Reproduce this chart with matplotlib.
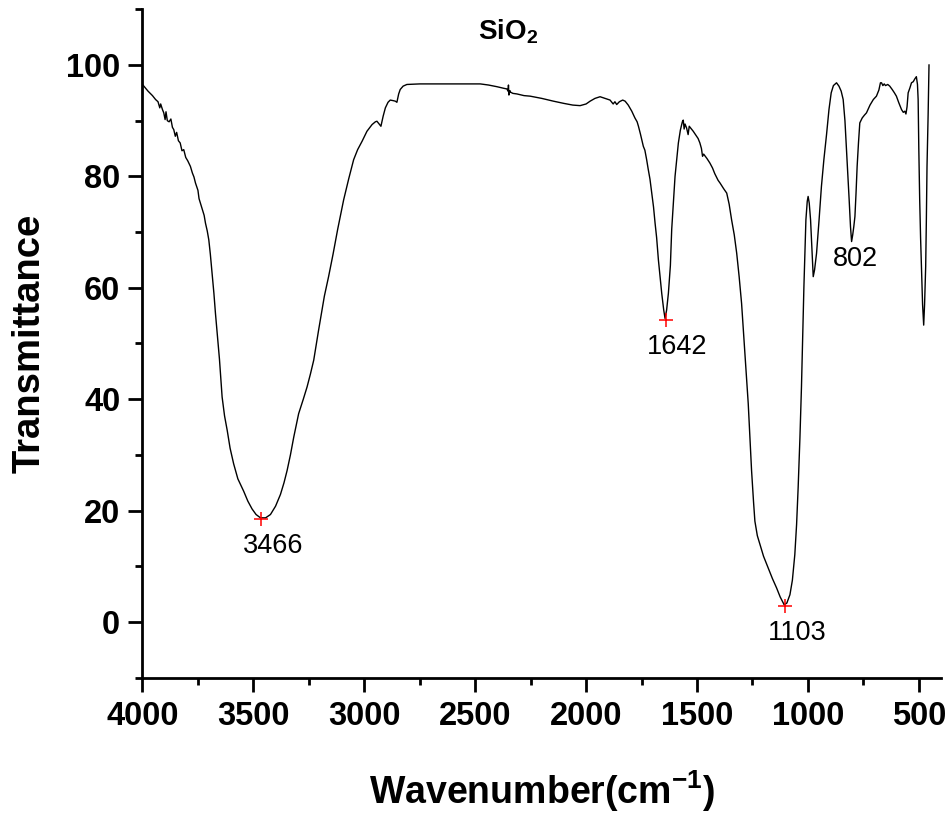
import numpy as np
import matplotlib
matplotlib.use("Agg")
import matplotlib.pyplot as plt

plt.rcParams['font.family'] = ['Liberation Sans', 'DejaVu Sans']
plt.rcParams['mathtext.fontset'] = 'custom'
plt.rcParams['mathtext.rm'] = 'Liberation Sans'
plt.rcParams['mathtext.bf'] = 'Liberation Sans:bold'

# FTIR spectrum (wavenumber cm-1, transmittance)
wavenumber = [4000, 3975, 3955, 3941, 3930, 3922, 3918, 3910, 3904, 3898, 3894, 3888, 3880,
              3872, 3865, 3859, 3852, 3846, 3838, 3830, 3822, 3814, 3805, 3796, 3784, 3775,
              3768, 3761, 3750, 3745, 3739, 3730, 3722, 3716, 3708, 3701, 3694, 3686, 3678,
              3671, 3662, 3653, 3641, 3630, 3618, 3605, 3589, 3570, 3544, 3525, 3506, 3488,
              3468, 3445, 3423, 3400, 3378, 3362, 3348, 3333, 3318, 3296, 3275, 3258, 3243,
              3228, 3206, 3180, 3161, 3141, 3120, 3100, 3093, 3070, 3048, 3030, 3010, 2988,
              2965, 2950, 2943, 2935, 2925, 2915, 2905, 2893, 2883, 2870, 2860, 2853, 2845,
              2838, 2825, 2808, 2750, 2700, 2600, 2477, 2440, 2402, 2370, 2357, 2352, 2350,
              2348, 2344, 2340, 2330, 2312, 2280, 2252, 2200, 2147, 2100, 2060, 2027, 2000,
              1982, 1960, 1937, 1915, 1892, 1878, 1870, 1862, 1850, 1835, 1824, 1810, 1794,
              1780, 1770, 1764, 1755, 1742, 1735, 1727, 1720, 1712, 1704, 1696, 1689, 1682,
              1674, 1659, 1650, 1644, 1637, 1629, 1620, 1614, 1606, 1599, 1590, 1584, 1575,
              1566, 1562, 1558, 1554, 1547, 1540, 1535, 1525, 1517, 1505, 1495, 1487, 1480,
              1475, 1470, 1455, 1442, 1430, 1420, 1405, 1396, 1380, 1366, 1355, 1344, 1332,
              1321, 1310, 1299, 1284, 1269, 1254, 1245, 1239, 1228, 1216, 1200, 1179, 1160,
              1141, 1125, 1107, 1095, 1081, 1070, 1059, 1051, 1044, 1036, 1029, 1018, 1009,
              1003, 999, 994, 988, 982, 976, 970, 961, 950, 939, 928, 916, 905, 895, 885,
              871, 860, 850, 841, 833, 826, 820, 814, 808, 803, 798, 793, 788, 783, 778, 772,
              766, 755, 745, 736, 720, 705, 691, 680, 673, 668, 662, 656, 650, 640, 631, 620,
              610, 601, 590, 578, 570, 563, 558, 553, 548, 540, 533, 525, 518, 511, 506, 503,
              500, 496, 492, 488, 483, 478, 474, 469, 466, 463, 458, 454]
transmittance = [96.5, 95.3, 94.5, 93.8, 93.4, 92.3, 93.0, 92.0, 91.4, 90.2, 91.6, 90.0, 89.8,
                 90.3, 88.8, 88.4, 87.2, 87.9, 86.4, 86.0, 84.6, 84.8, 83.4, 82.8, 81.8, 80.6,
                 79.9, 78.8, 77.5, 76.0, 75.2, 74.0, 73.0, 71.6, 70.2, 68.6, 66.0, 62.6, 59.0,
                 55.4, 51.3, 47.2, 40.4, 37.0, 34.4, 31.2, 28.4, 25.7, 23.5, 21.7, 20.3, 19.3,
                 18.7, 18.7, 19.3, 20.8, 22.9, 25.0, 27.2, 30.0, 33.2, 37.4, 40.0, 42.2, 44.5,
                 47.0, 52.4, 58.5, 62.0, 66.0, 70.5, 74.5, 75.8, 79.6, 83.0, 84.8, 86.3, 88.1,
                 89.3, 89.8, 89.9, 89.5, 89.0, 90.8, 92.3, 93.3, 93.7, 93.6, 93.5, 93.3, 94.8,
                 95.6, 96.2, 96.5, 96.6, 96.6, 96.6, 96.6, 96.4, 96.1, 95.8, 95.7, 95.3, 96.4,
                 94.6, 95.4, 95.1, 94.9, 94.8, 94.5, 94.4, 94.0, 93.5, 93.1, 92.8, 92.7, 93.0,
                 93.5, 94.0, 94.3, 94.0, 93.7, 93.0, 93.4, 92.9, 93.4, 93.7, 93.5, 92.8, 91.7,
                 90.5, 89.8, 89.0, 87.6, 85.4, 84.7, 83.0, 81.3, 79.5, 77.0, 74.5, 71.6, 69.0,
                 65.0, 59.0, 56.0, 54.5, 56.0, 59.0, 64.0, 70.5, 75.5, 80.0, 83.5, 86.0, 88.3,
                 89.8, 90.1, 88.5, 89.4, 88.7, 87.5, 89.0, 88.5, 88.1, 87.4, 86.8, 86.0, 85.0,
                 83.6, 84.0, 83.2, 82.4, 81.5, 80.5, 79.3, 78.8, 77.8, 77.0, 75.0, 72.2, 69.5,
                 66.2, 62.0, 57.2, 48.2, 39.2, 27.2, 21.5, 18.1, 15.5, 13.9, 11.8, 9.7, 7.8,
                 6.1, 4.5, 3.1, 3.4, 4.9, 7.5, 12.1, 17.5, 24.1, 33.0, 42.2, 60.2, 72.2,
                 75.5, 76.4, 75.2, 72.2, 67.0, 62.0, 63.2, 66.2, 72.0, 78.2, 83.0, 87.5, 92.0,
                 95.0, 96.3, 96.8, 96.2, 95.3, 93.8, 90.0, 84.8, 80.0, 75.8, 71.0, 68.3, 69.5,
                 71.0, 72.8, 77.0, 81.8, 86.0, 89.6, 90.5, 91.0, 91.4, 92.8, 93.8, 94.4, 95.5,
                 96.8, 96.8, 96.3, 96.6, 96.3, 96.5, 96.2, 95.6, 95.0, 94.4, 93.2, 92.0, 91.5,
                 91.7, 91.2, 92.5, 95.0, 95.9, 96.8, 97.0, 97.5, 97.9, 96.5, 93.8, 85.0, 75.8,
                 69.0, 63.8, 57.0, 53.3, 57.0, 63.8, 72.0, 81.8, 91.0, 100.0]

# marked peaks
peak_wn = [3466, 1642, 1103]
peak_t = [18.5, 54.2, 2.9]
peak_labels = ["3466", "1642", "1103"]
# unmarked band
band_wn = 802
band_t = 68.3
band_label = "802"

fig = plt.figure(figsize=(9.48, 8.13), dpi=100)
ax = fig.add_axes([0.1503, 0.1664, 0.8423, 0.8222])

ax.plot(wavenumber, transmittance, color='black', lw=1.0)
ax.plot(peak_wn, peak_t, ls='none', marker='+', color='red', ms=10, mew=1.1, zorder=3)

for x, y, lab in zip(peak_wn, peak_t, peak_labels):
    ax.annotate(lab, (x, y), xytext=(8.5, -10), textcoords='offset points',
                ha='center', va='top', fontsize=19.5)
ax.annotate(band_label, (band_wn, band_t), xytext=(2.5, -3.5), textcoords='offset points',
            ha='center', va='top', fontsize=19.5)

ax.text(2351, 104.6, r'SiO$_{\mathbf{2}}$', ha='center', va='baseline',
        fontsize=20, fontweight='bold')

ax.set_xlim(4000, 400)
ax.set_ylim(-10, 110)
ax.set_xticks([4000, 3500, 3000, 2500, 2000, 1500, 1000, 500])
ax.set_xticks(np.arange(3750, 400, -500), minor=True)
ax.set_yticks([0, 20, 40, 60, 80, 100])
ax.set_yticks([-10, 10, 30, 50, 70, 90, 110], minor=True)

for s in ['top', 'right']:
    ax.spines[s].set_visible(False)
for s in ['left', 'bottom']:
    ax.spines[s].set_linewidth(2.0)

ax.tick_params(which='major', direction='out', length=10, width=2.0, labelsize=23.5)
ax.tick_params(which='minor', direction='out', length=5, width=2.0)
ax.tick_params(axis='x', which='major', pad=7)
ax.tick_params(axis='y', which='major', pad=6)
for lab in ax.get_xticklabels() + ax.get_yticklabels():
    lab.set_fontweight('bold')

ax.set_xlabel(r'Wavenumber(cm$^{\mathbf{-1}}$)', fontsize=27, fontweight='bold', labelpad=26)
ax.set_ylabel('Transmittance', fontsize=27.5, fontweight='bold', labelpad=13)

fig.savefig('out.png', dpi=100)
